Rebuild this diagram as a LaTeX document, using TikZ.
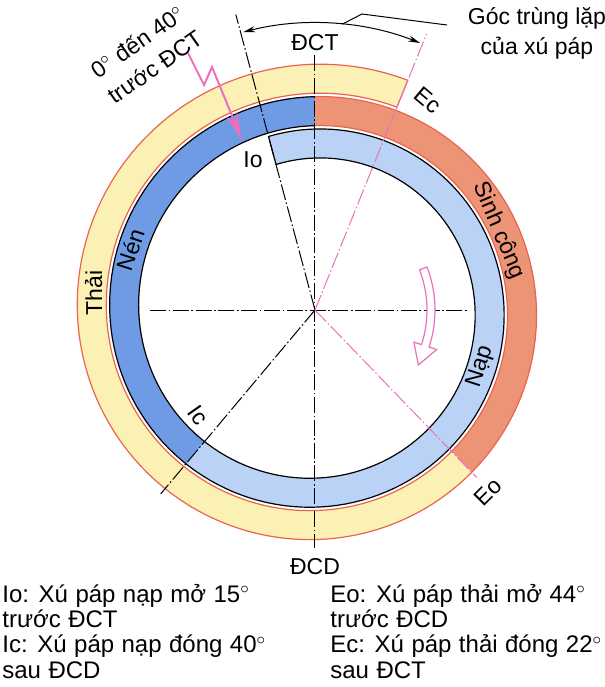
\documentclass[tikz,border=0pt]{standalone}
\usepackage{fontspec}
\setmainfont{Liberation Sans}
\usepackage{tikz}
\usetikzlibrary{arrows,arrows.meta,positioning}

\definecolor{napblue}{RGB}{185,210,245}
\definecolor{nenblue}{RGB}{110,155,228}
\definecolor{sinhred}{RGB}{237,148,118}
\definecolor{thaiyellow}{RGB}{252,241,180}
\definecolor{ringred}{RGB}{232,100,80}
\definecolor{pinkc}{RGB}{234,112,190}
\newcommand{\notefont}{\fontsize{12}{12.6}\selectfont\spaceskip=0.31em\relax}

\begin{document}
\begin{tikzpicture}[x=0.5pt,y=0.5pt,>={Stealth[length=6pt,width=3pt]},
    declare function={rin(\t)=152+0.09*\t; rout(\t)=181+0.09*\t;},
    axisline/.style={line width=0.5pt,dash pattern=on 8pt off 1.3pt on 0.8pt off 1.3pt},
    pinkline/.style={axisline,draw=pinkc},
    ringline/.style={line width=0.6pt},
    redline/.style={line width=0.6pt,draw=ringred},
    lbl/.style={font=\fontsize{11.5}{15}\selectfont,inner sep=0pt},
    note/.style={font=\notefont,align=left,inner sep=0pt}]
  \useasboundingbox (-315,-377) rectangle (290,310);

  % spiral of the four strokes
  \foreach \a/\b/\c in {-15/220/napblue,220/360/nenblue,360/496/sinhred,496/742/thaiyellow}
    \fill[\c] plot[domain=\a:\b,samples=90] ({90-(\x)}:{rin(\x)})
      -- plot[domain=\b:\a,samples=90] ({90-(\x)}:{rout(\x)}) -- cycle;
  \draw[ringline] plot[domain=-15:360,samples=150] ({90-(\x)}:{rin(\x)});
  \draw[ringline] plot[domain=-15:360,samples=150] ({90-(\x)}:{rout(\x)});
  \draw[redline] plot[domain=360:742,samples=150] ({90-(\x)}:{rin(\x)});
  \draw[redline] plot[domain=360:742,samples=150] ({90-(\x)}:{rout(\x)});
  \draw[ringline] (105:{rin(-15)}) -- (105:{rout(-15)});
  \draw[redline] (68:{rin(742)}) -- (68:{rout(742)});

  % axes and valve lines
  \coordinate (O) at (0,0);
  \coordinate (top) at (0,255);
  \coordinate (bot) at (0,-238);
  \coordinate (lft) at (-165,0);
  \coordinate (rgt) at (152,0);
  \coordinate (ioend) at (105:306);
  \coordinate (icend) at (-130:240);
  \coordinate (ecend) at (68:298);
  \coordinate (eoend) at (-46:233);
  \draw[axisline] (top) -- (bot);
  \draw[axisline] (lft) -- (rgt);
  \draw[axisline] (O) -- (ioend);
  \draw[axisline] (O) -- (icend);
  \draw[pinkline] (O) -- (ecend);
  \draw[pinkline] (O) -- (eoend);

  % overlap angle
  \coordinate (iolap) at (104.5:287);
  \coordinate (eclap) at (68.5:287);
  \coordinate (lapfoot) at (84.6:287);
  \coordinate (lapknee) at (47,296);
  \coordinate (lapstart) at (132,285);
  \draw[<->,line width=0.5pt] (iolap) arc[start angle=104.5,end angle=68.5,radius=287];
  \draw[line width=0.5pt] (lapstart) -- (lapknee) -- (lapfoot);
  \node[lbl,align=center] (lap) at (222,277) {Góc trùng lặp\\của xú páp};

  % labels
  \node[lbl] (dct) at (0,267) {ĐCT};
  \node[lbl] (dcd) at (0,-257) {ĐCD};
  \node[lbl,rotate=35,align=center] (early) at (-169,256) {0$^\circ$ đến 40$^\circ$\\trước ĐCT};
  \node[lbl,rotate=-40] (ec) at (113,210) {Ec};
  \node[lbl,rotate=45] (eo) at (173,-182) {Eo};
  \node[lbl] (io) at (-62,150) {Io};
  \node[lbl,rotate=-55] (ic) at (-117,-105) {Ic};
  \node[lbl,rotate=90] (thai) at (175.6:222) {Thải};
  \node[lbl,rotate=72] (nen) at (162:194) {Nén};
  \node[lbl,rotate=-67] (sinh) at (23.4:200) {Sinh công};
  \node[lbl,rotate=72] (nap) at (-19:175) {Nạp};

  % pink zigzag arrow
  \coordinate (z0) at (-127,257);
  \coordinate (z1) at (-111,225);
  \coordinate (z2) at (-103,243);
  \coordinate (z3) at (-73,170);
  \draw[pinkc,line width=1pt,-{Stealth[length=14pt,width=6pt]}] (z0) -- (z1) -- (z2) -- (z3);

  % turning direction
  \draw[pinkc,line width=0.6pt,fill=white] (21:120) arc[start angle=21,end angle=-18,radius=120]
    -- (-18:128) -- (-28:117) -- (-18:104) -- (-18:112)
    arc[start angle=-18,end angle=21,radius=112] -- cycle;

  % notes
  \node[note,anchor=north west] (ionote) at (-313,-274)
    {Io: Xú páp nạp mở 15$^\circ$\\trước ĐCT\\Ic: Xú páp nạp đóng 40$^\circ$\\sau ĐCD};
  \node[note,anchor=north west] (eonote) at (15,-274)
    {Eo: Xú páp thải mở 44$^\circ$\\trước ĐCD\\Ec: Xú páp thải đóng 22$^\circ$\\sau ĐCT};
\end{tikzpicture}
\end{document}
